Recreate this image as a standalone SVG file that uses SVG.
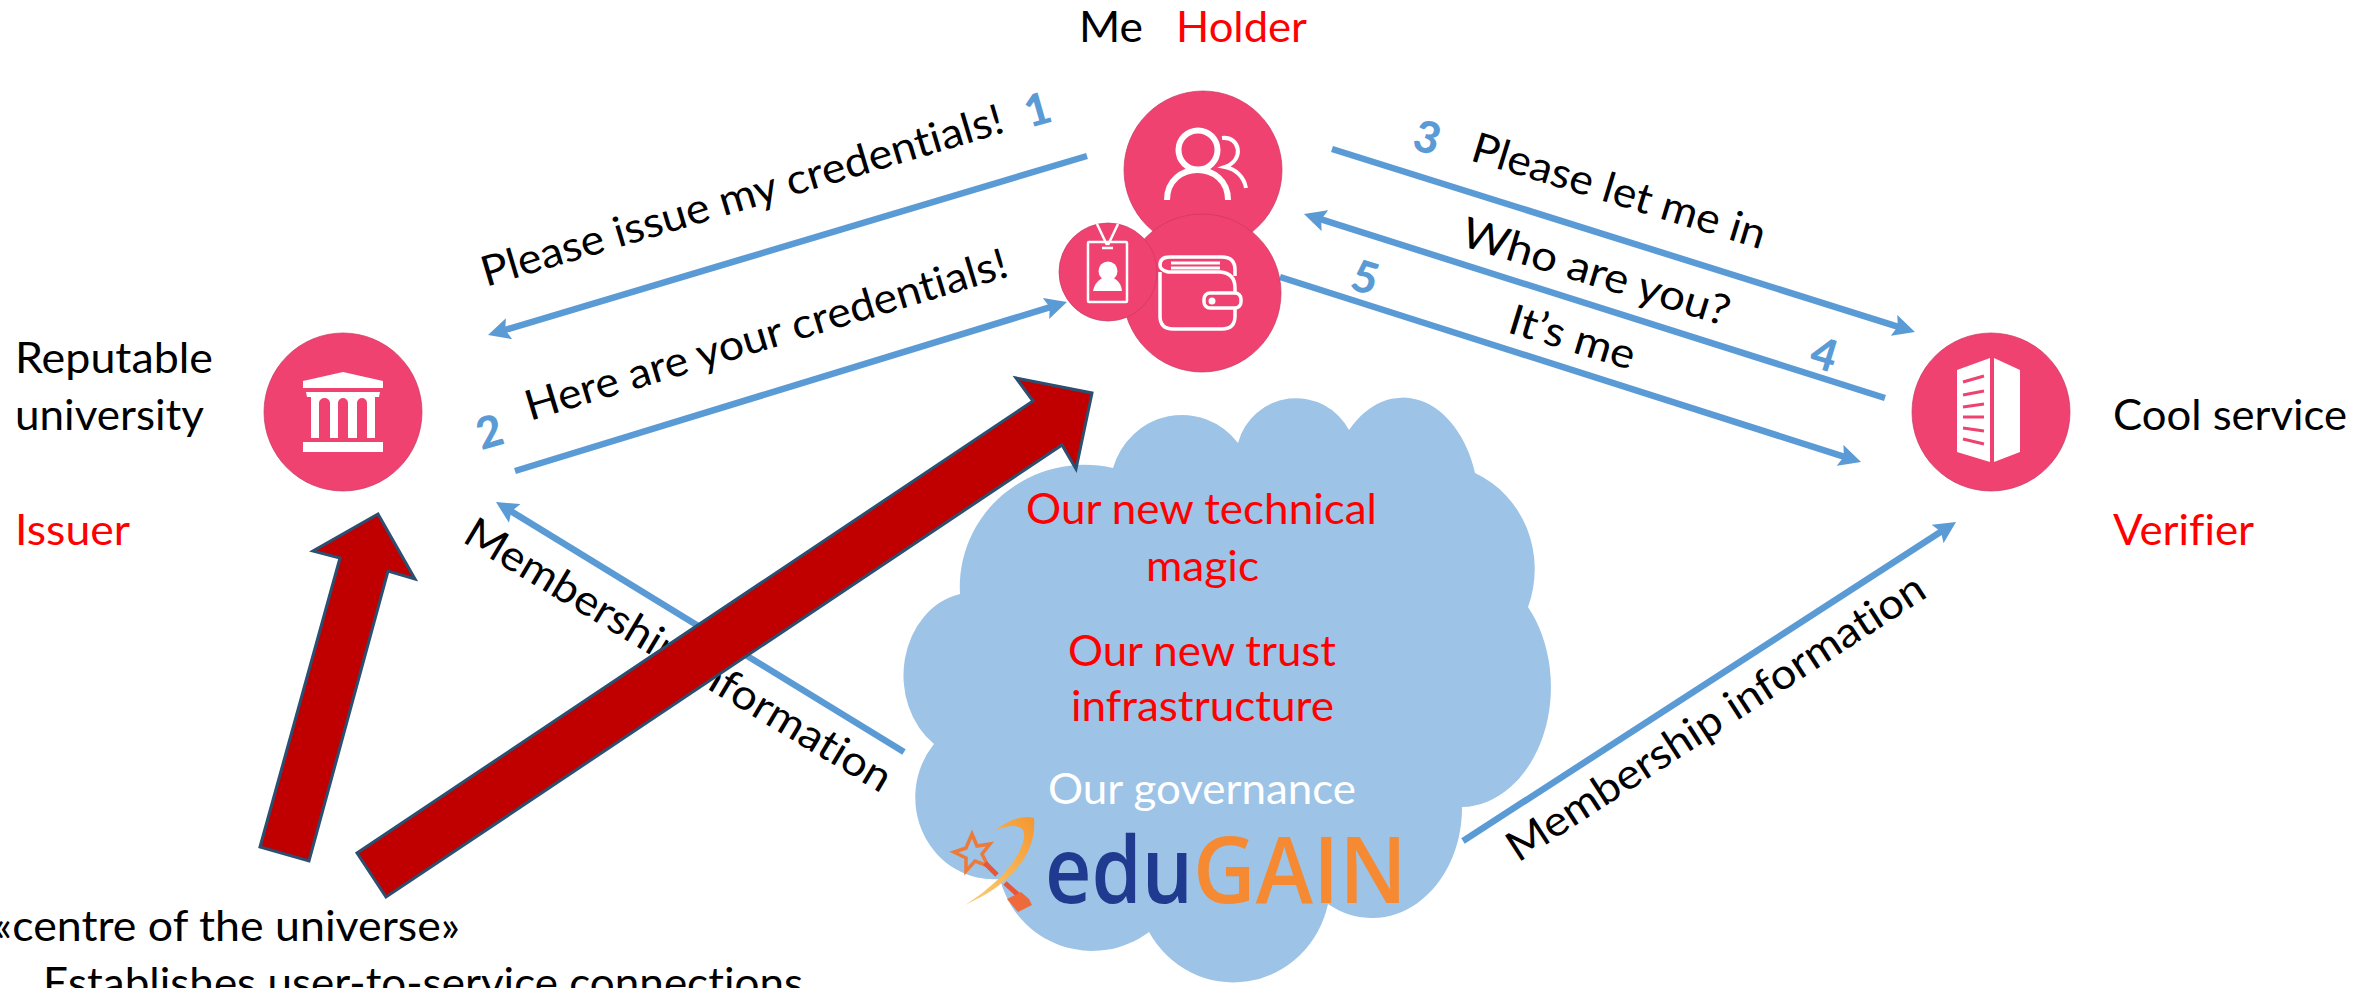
<svg xmlns="http://www.w3.org/2000/svg" width="2374" height="988" viewBox="0 0 2374 988">
<style>
text{font-family:Lato,"Open Sans",sans-serif;font-size:42px;fill:#000;font-variant-ligatures:none}
.red{fill:#f00}
.num{fill:#5b9bd5;font-weight:900;font-size:44px}
.wht{fill:#fff}
.pink{fill:#ef4270;stroke:#c93a62;stroke-width:.7}
.conn{fill:none;stroke:#5b9bd5;stroke-width:6.5;marker-end:url(#ah)}
.big{fill:#c00000;stroke:#2b4f70;stroke-width:3;stroke-linejoin:miter}
.ic{fill:none;stroke:#fff;stroke-linecap:butt}
.logo{font-family:"Open Sans",Lato,sans-serif;font-size:92px;font-weight:600}
</style>
<defs>
<marker id="ah" markerUnits="userSpaceOnUse" viewBox="0 0 22 22" markerWidth="22" markerHeight="22" refX="8" refY="11" orient="auto"><path d="M0,0 L22,11 L0,22 L4,11 Z" fill="#5b9bd5"/></marker>
<linearGradient id="sw" x1="0" y1="1" x2="1" y2="0"><stop offset="0" stop-color="#f9d27a"/><stop offset="1" stop-color="#f5962f"/></linearGradient>
</defs>

<g id="cloud">
<path fill="#9dc3e6" d="M1113,468 A72,75 0 0 1 1238,443 A60,60 0 0 1 1349,430 A76,110 0 0 1 1475,473 A100,105 0 0 1 1528,607 A90,120 0 0 1 1462,807 A90,110 0 0 1 1328,904 A97,100 0 0 1 1149,932 A95,95 0 0 1 1000,879 A78,82 0 0 1 934,744 A70,83 0 0 1 960,594 A125,122 0 0 1 1113,468 Z"/>
<text class="red" x="1026" y="524" textLength="351" lengthAdjust="spacingAndGlyphs">Our new technical</text>
<text class="red" x="1146" y="581" textLength="113" lengthAdjust="spacingAndGlyphs">magic</text>
<text class="red" x="1068" y="666" textLength="268" lengthAdjust="spacingAndGlyphs">Our new trust</text>
<text class="red" x="1071" y="721" textLength="263" lengthAdjust="spacingAndGlyphs">infrastructure</text>
<text class="wht" x="1048" y="804" textLength="308" lengthAdjust="spacingAndGlyphs">Our governance</text>
</g>

<g id="edugain-logo">
<polygon points="972,834 977,846 990,844 982,854 988,866 975,861 966,871 966,858 954,852 966,848" fill="none" stroke="#ee7a3a" stroke-width="3.5"/>
<path d="M985,863 L997,875 M1005,883 L1027,903" stroke="#e8563a" stroke-width="5" fill="none"/>
<polygon points="1007,899 1018,912 1032,905 1029,899 1021,892" fill="#ee6a3a"/>
<path d="M965,905 C1000,890 1038,860 1034,818 C1022,814 1006,822 994,831 C1012,823 1026,824 1024,838 C1020,862 992,888 965,905 Z" fill="url(#sw)"/>
<text class="logo" x="1045" y="903" textLength="148" lengthAdjust="spacingAndGlyphs" style="fill:#1f3a8f">edu</text>
<text class="logo" x="1193" y="903" textLength="214" lengthAdjust="spacingAndGlyphs" style="fill:#f58a33">GAIN</text>
</g>

<g id="connectors">
<line class="conn" x1="1087" y1="156" x2="501.4" y2="331"/>
<line class="conn" x1="515" y1="471" x2="1053.6" y2="306.1"/>
<line class="conn" x1="1332" y1="149" x2="1901.6" y2="327.8"/>
<line class="conn" x1="1885" y1="398" x2="1317.3" y2="218.2"/>
<line class="conn" x1="1280" y1="277" x2="1847.7" y2="457.8"/>
<line class="conn" x1="904" y1="752" x2="507.9" y2="509.3"/>
<line class="conn" x1="1463" y1="841" x2="1944.3" y2="529.6"/>
</g>

<g id="labels">
<text transform="rotate(-16.6 486 287)" x="486" y="287" textLength="543" lengthAdjust="spacingAndGlyphs">Please issue my credentials!</text>
<text transform="rotate(-16.8 530 421)" x="530" y="421" textLength="502" lengthAdjust="spacingAndGlyphs">Here are your credentials!</text>
<text transform="rotate(17 1469 160)" x="1469" y="160" textLength="305" lengthAdjust="spacingAndGlyphs">Please let me in</text>
<text transform="rotate(17 1459 245)" x="1459" y="245" textLength="278" lengthAdjust="spacingAndGlyphs">Who are you?</text>
<text transform="rotate(17 1506 332)" x="1506" y="332" textLength="130" lengthAdjust="spacingAndGlyphs">It’s me</text>
<text transform="rotate(31 461 541)" x="461" y="541" textLength="490" lengthAdjust="spacingAndGlyphs">Membership information</text>
<text transform="rotate(-33 1518 863)" x="1518" y="863" textLength="490" lengthAdjust="spacingAndGlyphs">Membership information</text>
<text class="num" transform="rotate(-16 1040 125)" x="1029" y="125">1</text>
<text class="num" transform="rotate(-16 493 447)" x="481" y="447">2</text>
<text class="num" transform="rotate(17 1422 152)" x="1410" y="152">3</text>
<text class="num" transform="rotate(17 1819 369)" x="1807" y="369">4</text>
<text class="num" transform="rotate(17 1360 292)" x="1348" y="292">5</text>
<text x="1079" y="42" textLength="64" lengthAdjust="spacingAndGlyphs">Me</text>
<text class="red" x="1176" y="42" textLength="131" lengthAdjust="spacingAndGlyphs">Holder</text>
<text x="15" y="373" textLength="198" lengthAdjust="spacingAndGlyphs">Reputable</text>
<text x="15" y="430" textLength="189" lengthAdjust="spacingAndGlyphs">university</text>
<text class="red" x="15" y="545" textLength="115" lengthAdjust="spacingAndGlyphs">Issuer</text>
<text x="2113" y="430" textLength="234" lengthAdjust="spacingAndGlyphs">Cool service</text>
<text class="red" x="2113" y="545" textLength="141" lengthAdjust="spacingAndGlyphs">Verifier</text>
<text x="-7" y="941" textLength="467" lengthAdjust="spacingAndGlyphs">«centre of the universe»</text>
<text x="43" y="998" textLength="760" lengthAdjust="spacingAndGlyphs">Establishes user-to-service connections</text>
</g>

<g id="holder">
<circle class="pink" cx="1203" cy="170" r="79"/>
<circle cx="1198" cy="150" r="19.5" class="ic" stroke-width="6"/>
<path class="ic" stroke-width="6" d="M1167,200 C1167,160 1228,160 1228,200"/>
<path class="ic" stroke-width="4" d="M1222,138 C1240,136 1245,160 1225,167 C1236,169 1244,177 1246,188"/>
</g>
<g id="wallet">
<circle class="pink" cx="1202" cy="293" r="79"/>
<path class="ic" stroke-width="3.5" d="M1160,272 V316 Q1160,329 1173,329 H1222 Q1235,329 1235,316 V308 M1235,293 V288 Q1235,273 1220,272 H1168 Q1160,270 1160,265 Q1160,257 1170,257 H1222 Q1235,257 1235,270 V276"/>
<path class="ic" stroke-width="2.800" d="M1171,263 H1220 M1171,268 H1220"/>
<rect class="ic" x="1204" y="293" width="37" height="15" rx="6" stroke-width="3.5"/>
<circle cx="1212" cy="301" r="3.5" fill="#fff"/>
</g>
<g id="badge">
<circle class="pink" cx="1108" cy="272" r="49"/>
<rect class="ic" x="1088" y="242" width="39" height="60" rx="1" stroke-width="2.5"/>
<path class="ic" stroke-width="2.5" d="M1097,224 L1107,245 M1118,224 L1108,245 M1102,248 H1113"/>
<circle cx="1108" cy="271" r="9.5" fill="#fff"/>
<path fill="#fff" d="M1093,291 C1095,281 1102,277 1108,277 C1114,277 1121,281 1122,291 Z"/>
</g>
<g id="issuer">
<circle class="pink" cx="343" cy="412" r="79"/>
<polygon fill="#fff" points="303,381 343,372 383,381 383,388 303,388"/>
<path fill="#fff" d="M306,392 H380 L379,397 H375 V438 H367 V403 A5,5 0 0 0 357,403 V438 H348 V403 A5,5 0 0 0 338,403 V438 H330 V403 A5.5,5 0 0 0 319,403 V438 H311 V397 H307 Z"/>
<rect x="303" y="442" width="80" height="10" fill="#fff"/>
</g>
<g id="verifier">
<circle class="pink" cx="1991" cy="412" r="79"/>
<polygon fill="#fff" points="1957,370 1990,358 1990,462 1957,452"/>
<polygon fill="#fff" points="1994,358 2020,370 2020,452 1994,462"/>
<path stroke="#ef4270" stroke-width="3" fill="none" d="M1963,382 L1984,376 M1963,395 L1984,391 M1963,407 L1984,404 M1963,417 L1984,417 M1963,428 L1984,431 M1963,439 L1984,444"/>
</g>

<g id="red-arrow-issuer"><polygon class="big" points="260,847 340,558 313,551 378,514 415,579 388,571 309,861"/></g>
<g id="red-arrow-wallet"><polygon class="big" points="357,853 1033,401 1016,378 1092,393 1076,469 1062,445 386,897"/></g>
</svg>
